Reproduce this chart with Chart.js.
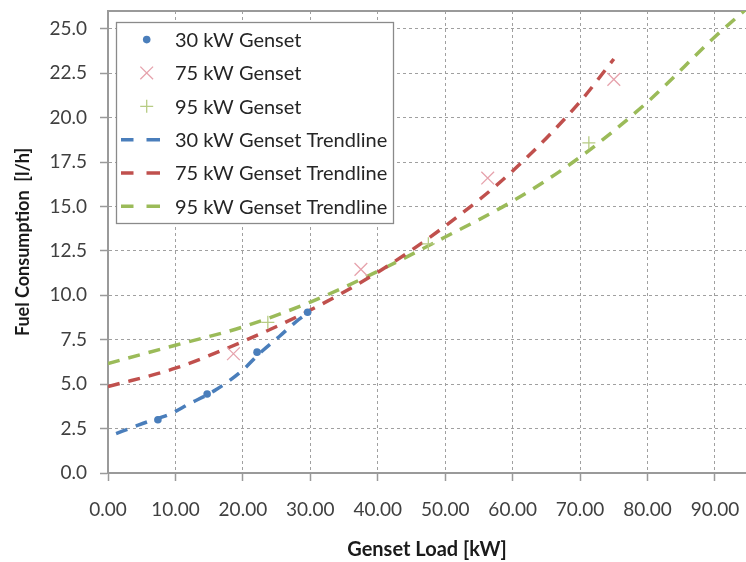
<!DOCTYPE html>
<html>
<head>
<meta charset="utf-8">
<script src="https://cdn.jsdelivr.net/npm/chart.js@4.4.1/dist/chart.umd.min.js"></script>
<style>
  html, body { margin: 0; padding: 0; background: #ffffff; }
  #wrap { width: 746px; height: 562px; }
</style>
</head>
<body>
<div id="wrap"><canvas id="c" width="746" height="562"></canvas></div>
<script>
const load30 = [7.4, 14.7, 22.1, 29.6];
const fuel30 = [3.0, 4.45, 6.8, 9.05];
const load75 = [18.6, 37.5, 56.3, 75.0];
const fuel75 = [6.71, 11.46, 16.6, 22.15];
const load95 = [23.7, 47.5, 71.3];
const fuel95 = [8.48, 12.9, 18.58];

const trendLoad30 = [1.2, 4, 6, 9, 12, 16, 20, 22.5, 25.4, 27.9, 30];
const trendFuel30 = [2.22, 2.62, 2.9, 3.28, 3.88, 4.68, 5.8, 6.74, 7.68, 8.52, 9.1];
const trendLoad75 = [0, 10, 20, 30, 40, 50, 60, 70, 75];
const trendFuel75 = [4.86, 5.9, 7.4, 9.17, 11.3, 13.9, 17.0, 20.9, 23.3];
const trendLoad95 = [0, 10, 20, 30, 40, 50, 60, 70, 80, 90, 94.6];
const trendFuel95 = [6.16, 7.19, 8.22, 9.62, 11.35, 13.28, 15.3, 17.78, 20.88, 24.55, 26.1];

const seriesNames = ['30 kW Genset', '75 kW Genset', '95 kW Genset',
  '30 kW Genset Trendline', '75 kW Genset Trendline', '95 kW Genset Trendline'];

const xTickValues = [0, 10, 20, 30, 40, 50, 60, 70, 80, 90];
const yTickValues = [0, 2.5, 5, 7.5, 10, 12.5, 15, 17.5, 20, 22.5, 25];
const xTitle = 'Genset Load [kW]';
const yTitle = 'Fuel Consumption  [l/h]';

const toPts = (xs, ys) => xs.map((x, i) => ({ x: x, y: ys[i] }));

const FONT = 'Lato, "Open Sans", sans-serif';
const BLUE = '#4A7EBB', RED = '#C0504D', GREEN = '#9BBB59';
const GRID = '#a0a0a0', AXIS = '#9a9a9a';

// stretch the plot area to the right edge of the canvas, as in the reference
const fullRight = {
  id: 'fullRight',
  afterLayout(chart) {
    const area = chart.chartArea;
    if (area.right < chart.width) {
      area.right = chart.width;
      area.width = area.right - area.left;
      const x = chart.scales.x;
      x.right = chart.width;
      x.width = x.right - x.left;
      x.configure();
    }
  }
};

const boxLegend = {
  id: 'boxLegend',
  afterDraw(chart) {
    const { ctx, chartArea } = chart;
    const x0 = Math.round(chartArea.left + 7.7), y0 = Math.round(chartArea.top + 10.7);
    const w = 277, h = 201;
    ctx.save();
    ctx.fillStyle = '#ffffff';
    ctx.fillRect(x0, y0, w, h);
    ctx.strokeStyle = '#8a8a8a';
    ctx.lineWidth = 1.3;
    ctx.setLineDash([]);
    ctx.strokeRect(x0 + 0.5, y0 + 0.5, w, h);
    chart.data.datasets.forEach((ds, i) => {
      const cy = y0 + 17.6 + i * 33.35;
      const cx = x0 + 30.7;
      ctx.save();
      if (ds.showLine) {
        ctx.strokeStyle = ds.borderColor;
        ctx.lineWidth = ds.borderWidth;
        ctx.setLineDash([]);
        ctx.beginPath();
        ctx.moveTo(x0 + 5, cy); ctx.lineTo(x0 + 17.5, cy);
        ctx.moveTo(x0 + 30.5, cy); ctx.lineTo(x0 + 44, cy);
        ctx.stroke();
      } else {
        ctx.fillStyle = ds.pointBackgroundColor;
        ctx.strokeStyle = ds.pointBorderColor;
        ctx.setLineDash([]);
        Chart.helpers.drawPoint(ctx, {
          pointStyle: ds.pointStyle, rotation: 0,
          radius: ds.pointRadius, borderWidth: ds.pointBorderWidth
        }, cx, cy);
      }
      ctx.restore();
      ctx.fillStyle = '#262626';
      ctx.font = '20px ' + FONT;
      ctx.textBaseline = 'middle';
      ctx.textAlign = 'left';
      ctx.fillText(ds.label, x0 + 59, cy + 1);
    });
    ctx.restore();
  }
};

const topBorder = {
  id: 'topBorder',
  beforeDatasetsDraw(chart) {
    const { ctx, chartArea } = chart;
    ctx.save();
    ctx.strokeStyle = AXIS;
    ctx.lineWidth = 2;
    ctx.beginPath();
    ctx.moveTo(chartArea.left, chartArea.top);
    ctx.lineTo(chartArea.right, chartArea.top);
    ctx.stroke();
    ctx.restore();
  }
};

const pointSet = (label, xs, ys, style, color, radius, bw) => ({
  label: label, data: toPts(xs, ys), showLine: false,
  pointStyle: style, pointRadius: radius, pointHoverRadius: radius,
  pointBackgroundColor: color, pointBorderColor: color, pointBorderWidth: bw,
  backgroundColor: color, borderColor: color
});
const lineSet = (label, xs, ys, color) => ({
  label: label, data: toPts(xs, ys), showLine: true,
  borderColor: color, backgroundColor: color, borderWidth: 3.5,
  borderDash: [12, 9], borderCapStyle: 'butt',
  pointRadius: 0, pointHoverRadius: 0, fill: false,
  cubicInterpolationMode: 'monotone'
});

const zeroPad = s => { s.paddingLeft = 0; s.paddingRight = 0; s.paddingTop = 0; s.paddingBottom = 0; };

new Chart(document.getElementById('c'), {
  type: 'scatter',
  data: {
    datasets: [
      pointSet(seriesNames[0], load30, fuel30, 'circle', BLUE, 3.8, 0),
      pointSet(seriesNames[1], load75, fuel75, 'crossRot', '#E6A2AC', 9, 1.3),
      pointSet(seriesNames[2], load95, fuel95, 'cross', '#B7CC84', 6.5, 1.3),
      lineSet(seriesNames[3], trendLoad30, trendFuel30, BLUE),
      lineSet(seriesNames[4], trendLoad75, trendFuel75, RED),
      lineSet(seriesNames[5], trendLoad95, trendFuel95, GREEN)
    ]
  },
  options: {
    responsive: false,
    devicePixelRatio: 1,
    animation: false,
    layout: { padding: { top: 11, left: 0, right: 0, bottom: 0 } },
    plugins: { legend: { display: false }, tooltip: { enabled: false } },
    scales: {
      x: {
        type: 'linear', min: 0, max: 94.6,
        afterBuildTicks: s => { s.ticks = xTickValues.map(v => ({ value: v })); },
        afterFit: s => { s.height = 89; zeroPad(s); },
        ticks: {
          callback: v => Number(v).toFixed(2),
          color: '#404040', font: { family: FONT, size: 19 }, padding: 17,
          maxRotation: 0, autoSkip: false
        },
        grid: {
          color: GRID, lineWidth: 1, tickLength: 8,
          tickColor: AXIS, tickBorderDash: [], tickWidth: 1.5
        },
        border: { color: AXIS, width: 2, dash: [3, 3] },
        title: {
          display: true, text: xTitle, color: '#1a1a1a',
          font: { family: FONT, size: 20, weight: 'bold' }, padding: { top: 4, bottom: 0 }
        }
      },
      y: {
        type: 'linear', min: 0, max: 26.0,
        afterBuildTicks: s => { s.ticks = yTickValues.map(v => ({ value: v })); },
        afterFit: s => { s.width = 108; zeroPad(s); },
        ticks: {
          callback: v => Number(v).toFixed(1),
          color: '#404040', font: { family: FONT, size: 19 }, padding: 13
        },
        grid: {
          color: GRID, lineWidth: 1, tickLength: 8,
          tickColor: AXIS, tickBorderDash: [], tickWidth: 1.5
        },
        border: { color: AXIS, width: 2, dash: [3, 3] },
        title: {
          display: true, text: yTitle, color: '#1a1a1a',
          font: { family: FONT, size: 18, weight: 'bold' }, padding: { top: 12, bottom: 0 }
        }
      }
    }
  },
  plugins: [fullRight, topBorder, boxLegend]
});
</script>
</body>
</html>
